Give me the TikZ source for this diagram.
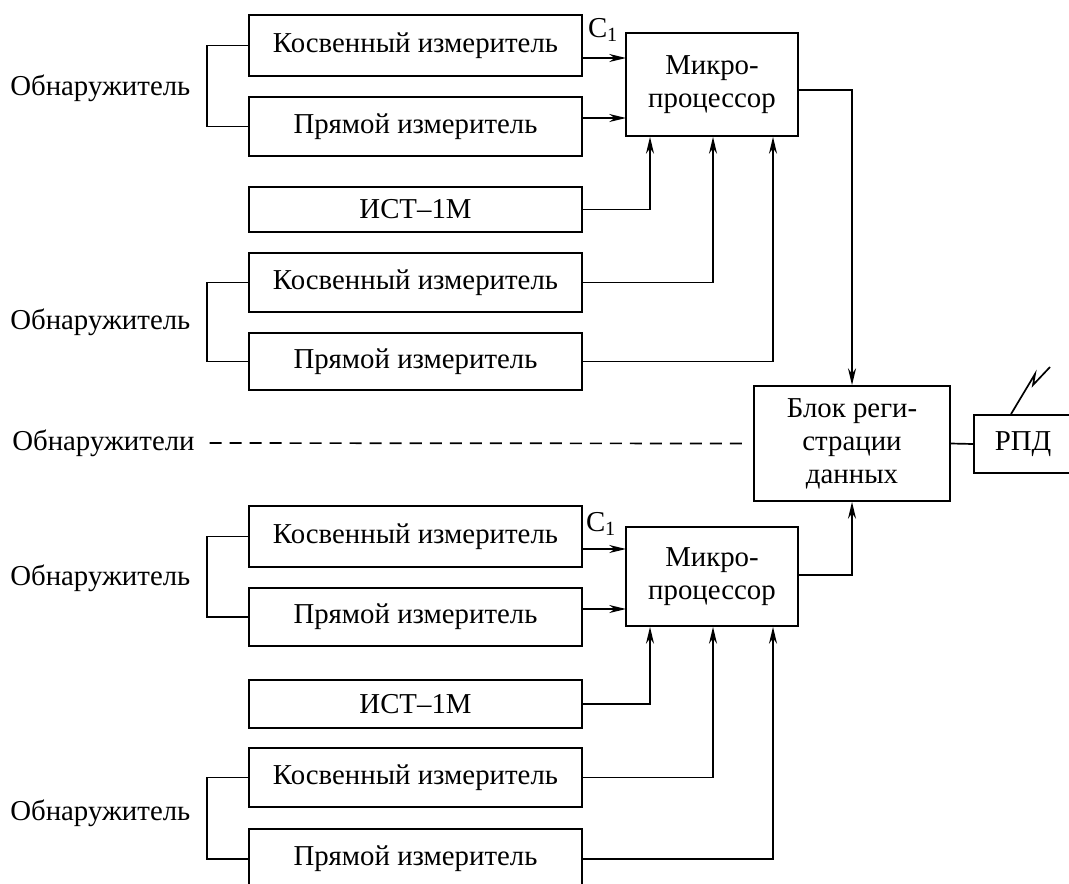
\documentclass[tikz,border=0pt]{standalone}
\usepackage{fontspec}
\setmainfont{Liberation Serif}
\usepackage{tikz}
\usetikzlibrary{arrows.meta}
\def\pu{0.025cm}
\tikzstyle{block}=[draw=black, rectangle, line width=1.3pt, inner sep=0pt, align=center, minimum width=333*\pu, font=\fontsize{20.5}{23.5}\selectfont]
\tikzstyle{txt}=[anchor=west, inner sep=0pt, font=\fontsize{20.5}{23.5}\selectfont]
\tikzstyle{line}=[draw=black, line width=1.2pt]
\tikzstyle{arrow}=[draw=black, line width=1.2pt, -{Stealth[length=4.2mm, width=2mm]}]
\begin{document}
\begin{tikzpicture}[x=\pu, y=-\pu]
		   \clip (0,0) rectangle (1069,883);
		   \begin{scope}
			   % upper group
			   \node (k1) at (415.5, 45.5)[block, minimum height=61*\pu] {Косвенный измеритель};
			   \node (p1) at (415.5, 126.5)[block, minimum height=59*\pu] {Прямой измеритель};
			   \node (i1) at (415.5, 209.5)[block, minimum height=45*\pu] {ИСТ–1М};
			   \node (k2) at (415.5, 282.5)[block, minimum height=59*\pu] {Косвенный измеритель};
			   \node (p2) at (415.5, 361.5)[block, minimum height=57*\pu] {Прямой измеритель};
			   \node (mp1) at (712, 84.5)[block, minimum width=172*\pu, minimum height=103*\pu] {Микро-\\процессор};
			   \node (d1) at (10, 88)[txt] {Обнаружитель};
			   \node (d2) at (10, 322)[txt] {Обнаружитель};
			   \node (c1) at (603, 30)[txt, anchor=center] {C\textsubscript{1}};
			   % middle
			   \node (br) at (852, 443.5)[block, minimum width=196*\pu, minimum height=115*\pu] {Блок реги-\\страции\\данных};
			   \node (rpd) at (1023, 444)[block, minimum width=98*\pu, minimum height=58*\pu] {РПД};
			   \node (dd) at (12, 443)[txt] {Обнаружители};
			   % lower group
			   \node (k3) at (415.5, 536.5)[block, minimum height=61*\pu] {Косвенный измеритель};
			   \node (p3) at (415.5, 617)[block, minimum height=58*\pu] {Прямой измеритель};
			   \node (i2) at (415.5, 704)[block, minimum height=48*\pu] {ИСТ–1М};
			   \node (k4) at (415.5, 777.5)[block, minimum height=59*\pu] {Косвенный измеритель};
			   \node (p4) at (415.5, 859)[block, minimum height=60*\pu] {Прямой измеритель};
			   \node (mp2) at (712, 576.5)[block, minimum width=172*\pu, minimum height=99*\pu] {Микро-\\процессор};
			   \node (d3) at (10, 578)[txt] {Обнаружитель};
			   \node (d4) at (10, 813)[txt] {Обнаружитель};
			   \node (c2) at (601, 524)[txt, anchor=center] {C\textsubscript{1}};
		   \end{scope}
		   \begin{scope}
			   \coordinate (a1) at (626, 58);
			   \coordinate (a2) at (626, 118);
			   \coordinate (a3) at (626, 549);
			   \coordinate (a4) at (626, 609);
			   \coordinate (b1) at (650, 0);
			   \coordinate (b2) at (713, 0);
			   \coordinate (b3) at (773, 0);
			   \coordinate (o1) at (852, 90);
			   \coordinate (o2) at (852, 575);
			   \coordinate (ant) at (1011, 414);
			   % brackets
			   \draw [line] (k1.west) -- ++(-41, 0) |- (p1.west);
			   \draw [line] (k2.west) -- ++(-41, 0) |- (p2.west);
			   \draw [line] (k3.west) -- ++(-41, 0) |- (p3.west);
			   \draw [line] (k4.west) -- ++(-41, 0) |- (p4.west);
			   % into the processors
			   \draw [arrow] (k1.east |- a1) -- (a1);
			   \draw [arrow] (p1.east |- a2) -- (a2);
			   \draw [arrow] (i1.east) -| (mp1.south -| b1);
			   \draw [arrow] (k2.east) -| (mp1.south -| b2);
			   \draw [arrow] (p2.east) -| (mp1.south -| b3);
			   \draw [arrow] (k3.east |- a3) -- (a3);
			   \draw [arrow] (p3.east |- a4) -- (a4);
			   \draw [arrow] (i2.east) -| (mp2.south -| b1);
			   \draw [arrow] (k4.east) -| (mp2.south -| b2);
			   \draw [arrow] (p4.east) -| (mp2.south -| b3);
			   % to the register block
			   \draw [arrow] (mp1.east |- o1) -| (br.north);
			   \draw [arrow] (mp2.east |- o2) -| (br.south);
			   \draw [line, dash pattern=on 3mm off 2mm, shorten <=3.7mm, shorten >=1.5mm] (dd.east) -- (br.west);
			   \draw [line] (br.east) -- (rpd.west);
			   \draw [line] (rpd.north -| ant) -- (1035, 374) -- (1033, 385) -- (1050, 367);
		   \end{scope}
	   \end{tikzpicture}
\end{document}
